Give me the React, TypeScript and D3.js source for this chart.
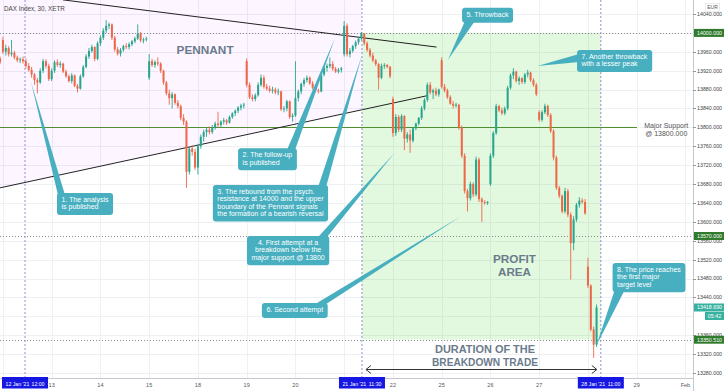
import React from "react";
import * as d3 from "d3";

// 30 min candles, DAX Index XETR: [open, high, low, close]
type Bar = [number, number, number, number];

const jan11: Bar[] = [[13946, 13950, 13934, 13938]];
const jan12: Bar[] = [
  [13985, 13992, 13955, 13960], [13960, 13975, 13952, 13968], [13968, 13972, 13950, 13955],
  [13955, 13985, 13950, 13958], [13958, 13962, 13944, 13948], [13948, 13952, 13938, 13942],
  [13942, 13948, 13936, 13944], [13944, 13950, 13935, 13940], [13940, 13946, 13925, 13930],
  [13930, 13936, 13918, 13922], [13922, 13928, 13905, 13912], [13912, 13915, 13890, 13900],
  [13900, 13905, 13872, 13895], [13895, 13925, 13892, 13920], [13920, 13945, 13915, 13940],
  [13940, 13944, 13925, 13930], [13930, 13935, 13898, 13902],
];
const jan13: Bar[] = [
  [13902, 13925, 13898, 13920], [13920, 13942, 13915, 13938], [13938, 13944, 13928, 13932],
  [13932, 13940, 13926, 13935], [13935, 13937, 13915, 13918], [13918, 13922, 13905, 13908],
  [13908, 13912, 13895, 13898], [13898, 13915, 13893, 13910], [13910, 13912, 13885, 13888],
  [13888, 13892, 13874, 13882], [13882, 13912, 13880, 13908], [13908, 13932, 13905, 13928],
  [13928, 13955, 13925, 13950], [13950, 13968, 13945, 13962], [13962, 13975, 13958, 13970],
  [13970, 13972, 13940, 13945], [13945, 13982, 13942, 13978],
];
const jan14: Bar[] = [
  [13978, 13995, 13972, 13990], [13990, 14010, 13985, 14005], [14005, 14027, 14000, 14015],
  [14015, 14022, 14008, 14018], [14018, 14020, 13985, 13990], [13990, 13994, 13960, 13965],
  [13965, 13970, 13952, 13956], [13956, 13968, 13950, 13964], [13964, 13975, 13960, 13972],
  [13972, 13978, 13966, 13970], [13970, 13980, 13965, 13976], [13976, 13985, 13972, 13982],
  [13982, 13992, 13978, 13988], [13988, 14018, 13985, 13998], [13998, 14002, 13980, 13984],
  [13984, 13990, 13978, 13986], [13986, 13992, 13982, 13988],
];
const jan15: Bar[] = [
  [13905, 13955, 13900, 13940], [13940, 13945, 13928, 13932], [13932, 13942, 13926, 13938],
  [13938, 13948, 13930, 13935], [13935, 13938, 13915, 13920], [13920, 13922, 13890, 13895],
  [13895, 13898, 13868, 13872], [13872, 13880, 13848, 13862], [13862, 13875, 13840, 13870],
  [13870, 13872, 13848, 13852], [13852, 13858, 13840, 13845], [13845, 13848, 13815, 13820],
  [13820, 13828, 13805, 13812], [13812, 13815, 13672, 13706], [13706, 13760, 13700, 13755],
  [13755, 13762, 13740, 13748], [13748, 13755, 13710, 13715],
];
const jan18: Bar[] = [
  [13715, 13765, 13700, 13760], [13760, 13785, 13755, 13780], [13780, 13795, 13770, 13790],
  [13790, 13800, 13780, 13795], [13795, 13802, 13785, 13790], [13790, 13805, 13786, 13800],
  [13800, 13812, 13795, 13808], [13808, 13833, 13800, 13805], [13805, 13815, 13800, 13812],
  [13812, 13820, 13806, 13815], [13815, 13818, 13805, 13810], [13810, 13825, 13808, 13822],
  [13822, 13832, 13818, 13830], [13830, 13838, 13824, 13835], [13835, 13845, 13830, 13842],
  [13842, 13850, 13836, 13846], [13846, 13852, 13840, 13848],
];
const jan19: Bar[] = [
  [13940, 13946, 13885, 13890], [13890, 13895, 13860, 13864], [13864, 13870, 13855, 13860],
  [13860, 13872, 13855, 13868], [13868, 13895, 13865, 13890], [13890, 13912, 13886, 13905],
  [13905, 13910, 13882, 13886], [13886, 13892, 13878, 13882], [13882, 13888, 13874, 13878],
  [13878, 13886, 13872, 13880], [13880, 13884, 13870, 13874], [13874, 13882, 13868, 13876],
  [13876, 13878, 13835, 13838], [13838, 13845, 13832, 13840], [13840, 13858, 13834, 13855],
  [13855, 13857, 13818, 13822], [13822, 13830, 13812, 13825],
];
const jan20: Bar[] = [
  [13825, 13940, 13822, 13862], [13862, 13880, 13855, 13876], [13876, 13895, 13870, 13892],
  [13892, 13905, 13886, 13900], [13900, 13910, 13895, 13905], [13905, 13908, 13890, 13893],
  [13893, 13898, 13880, 13884], [13884, 13888, 13874, 13878], [13878, 13882, 13872, 13876],
  [13876, 13915, 13874, 13912], [13912, 13930, 13908, 13926], [13926, 13935, 13918, 13930],
  [13930, 13948, 13925, 13934], [13934, 13940, 13920, 13924], [13924, 13928, 13915, 13918],
  [13918, 13926, 13914, 13922], [13922, 13928, 13916, 13925],
];
const jan21: Bar[] = [
  [13955, 14025, 13950, 14015], [14015, 14020, 13950, 13955], [13955, 13968, 13948, 13962],
  [13962, 13975, 13958, 13972], [13972, 13984, 13966, 13980], [13980, 13992, 13975, 13988],
  [13988, 14002, 13984, 13998], [13998, 14000, 13974, 13978], [13978, 13982, 13960, 13964],
  [13964, 13968, 13948, 13952], [13952, 13958, 13938, 13942], [13942, 13945, 13930, 13934],
  [13934, 13936, 13880, 13905], [13905, 13935, 13902, 13930], [13930, 13936, 13924, 13932],
  [13932, 13934, 13925, 13928], [13928, 13930, 13904, 13908],
];
const jan22: Bar[] = [
  [13860, 13865, 13780, 13788], [13788, 13828, 13782, 13822], [13822, 13826, 13790, 13795],
  [13795, 13828, 13790, 13824], [13824, 13826, 13752, 13776], [13776, 13790, 13768, 13785],
  [13785, 13795, 13746, 13772], [13772, 13800, 13768, 13798], [13798, 13810, 13794, 13808],
  [13808, 13822, 13804, 13820], [13820, 13845, 13816, 13840], [13840, 13862, 13836, 13858],
  [13858, 13895, 13854, 13890], [13890, 13896, 13870, 13874], [13874, 13882, 13860, 13878],
  [13878, 13884, 13866, 13870], [13870, 13882, 13865, 13880],
];
const jan25: Bar[] = [
  [13942, 13948, 13882, 13886], [13886, 13892, 13874, 13878], [13878, 13882, 13860, 13864],
  [13864, 13868, 13848, 13850], [13850, 13856, 13840, 13846], [13846, 13852, 13842, 13848],
  [13848, 13850, 13795, 13800], [13800, 13804, 13735, 13740], [13740, 13745, 13660, 13665],
  [13665, 13670, 13622, 13650], [13650, 13685, 13645, 13680], [13680, 13684, 13652, 13658],
  [13658, 13738, 13654, 13732], [13732, 13736, 13642, 13648], [13648, 13652, 13600, 13642],
  [13642, 13646, 13636, 13640], [13640, 13644, 13636, 13642],
];
const jan26: Bar[] = [
  [13680, 13745, 13676, 13740], [13740, 13792, 13735, 13788], [13788, 13850, 13784, 13845],
  [13845, 13848, 13832, 13836], [13836, 13842, 13826, 13830], [13830, 13844, 13826, 13840],
  [13840, 13888, 13836, 13884], [13884, 13914, 13880, 13910], [13910, 13925, 13902, 13918],
  [13918, 13920, 13895, 13898], [13898, 13908, 13890, 13904], [13904, 13906, 13892, 13896],
  [13896, 13915, 13892, 13912], [13912, 13922, 13906, 13916], [13916, 13918, 13896, 13900],
  [13900, 13904, 13886, 13890], [13890, 13894, 13866, 13870],
];
const jan27: Bar[] = [
  [13832, 13836, 13812, 13816], [13816, 13836, 13812, 13832], [13832, 13850, 13828, 13845],
  [13845, 13848, 13822, 13826], [13826, 13830, 13788, 13792], [13792, 13796, 13730, 13736],
  [13736, 13740, 13668, 13672], [13672, 13676, 13650, 13655], [13655, 13658, 13618, 13622],
  [13622, 13672, 13618, 13665], [13665, 13670, 13610, 13615], [13615, 13620, 13478, 13555],
  [13555, 13612, 13540, 13605], [13605, 13640, 13600, 13636], [13636, 13652, 13630, 13645],
  [13645, 13650, 13638, 13642], [13642, 13648, 13615, 13618],
];
const jan28: Bar[] = [
  [13505, 13524, 13460, 13465], [13465, 13468, 13368, 13372],
  [13372, 13378, 13312, 13340], [13340, 13425, 13335, 13418.69],
];

const sessions: Bar[][] = [jan12, jan13, jan14, jan15, jan18, jan19, jan20, jan21, jan22, jan25, jan26, jan27, jan28];
const dayLabels = ["12", "13", "14", "15", "18", "19", "20", "21", "22", "25", "26", "27", "28", "29", "Feb"];
const barsPerDay = 17;

const priceTicks = [13280, 13320, 13360, 13440, 13480, 13520, 13560, 13600, 13640,
  13680, 13720, 13760, 13800, 13840, 13880, 13920, 13960, 14040];
const dottedLevels = [14000, 13570, 13350.51];
const priceTags = [
  { value: 14000, text: "14000.000", kind: "level" },
  { value: 13570, text: "13570.000", kind: "level" },
  { value: 13418.69, text: "13418.690", kind: "last" },
  { value: 13350.51, text: "13350.510", kind: "level" },
];
const countdown = "05:42";

// vertical date markers (bar position)
const markerBars = [7.7, 125.2, 208.5];
const markerDates = ["12 Jan '21", "21 Jan '21", "28 Jan '21"];
const markerTimes = ["12:00", "11:30", "11:00"];

// drawings in [bar, price]
const pennantUpper: [number, number][] = [[20.9, 14070], [151.2, 13970]];
const pennantLower: [number, number][] = [[-1.0, 13672], [147.9, 13867]];
const supportLevel = 13800;
const supportEnd = 221.1;
const profitRange = [13350.51, 14000];

const callouts = [
  { lines: ["1. The analysis", "is published"], at: [18.85, 13661], tip: [9.8, 13896] },
  { lines: ["2. The follow-up", "is published"], at: [82, 13756], tip: [115.8, 13989] },
  { lines: ["3. The rebound from the psych.", "resistance at 14000 and the upper", "boundary of the Pennant signals", "the formation of a bearish reversal"], at: [73.2, 13678], tip: [125.2, 13953] },
  { lines: ["4. First attempt at a", "breakdown below the", "major support @ 13800"], at: [85.1, 13570], tip: [136.5, 13746] },
  { lines: ["5. Throwback"], at: [160.1, 14053], tip: [155.2, 13943] },
  { lines: ["6. Second attempt"], at: [90.3, 13428], tip: [159.7, 13612] },
  { lines: ["7. Another throwback", "with a lesser peak"], at: [200.2, 13964], tip: [186.4, 13930] },
  { lines: ["8. The price reaches", "the first major", "target level"], at: [212.6, 13513], tip: [207, 13339] },
];
const pointerBase = [
  { edge: "top", a: 1, b: 8 },
  { edge: "top", a: -10, b: -2 },
  { edge: "top", a: -10, b: -2 },
  { edge: "top", a: -12, b: -3 },
  { edge: "bottom", a: 3, b: 13 },
  { edge: "top", a: -14, b: -3 },
  { edge: "left", a: 4, b: 12 },
  { edge: "bottom", a: 2, b: 12 },
];

const labels = [
  { lines: ["PENNANT"], at: [70.5, 13955], len: [57] },
  { lines: ["PROFIT", "AREA"], at: [178.4, 13513], len: [43, 33] },
  { lines: ["DURATION OF THE", "BREAKDOWN TRADE"], at: [168.1, 13323], len: [100, 106] },
];

const W = 728;
const H = 391;
const PLOT_R = 693;
const AXIS_Y = 378;
const X0 = 1.5;
const STEP = 48.75 / 17;
const UP = "#26a68c";
const DOWN = "#ee6748";
const TEAL = "#47afbf";
const GRAY_TXT = "#6b7b8c";
const CALL_FONT = "7px 'Liberation Sans', Arial, sans-serif";

let ctx: CanvasRenderingContext2D | null = null;
function measure(s: string, font: string) {
  if (!ctx) ctx = document.createElement("canvas").getContext("2d");
  if (!ctx) return s.length * 3.4;
  ctx.font = font;
  return ctx.measureText(s).width;
}

export default function App() {
  const x = d3.scaleLinear().domain([-0.5, 237.5]).range([X0, X0 + 238 * STEP]);
  const y = d3.scaleLinear().domain([13280, 14040]).range([373, 14]);

  const bars = [
    ...jan11.map((b, i) => ({ i: i - jan11.length, b })),
    ...sessions.flatMap((s, d) => s.map((b, j) => ({ i: d * barsPerDay + j, b }))),
  ];

  const lineAt = (ln: [number, number][], i: number) =>
    d3.scaleLinear().domain([ln[0][0], ln[1][0]]).range([ln[0][1], ln[1][1]])(i);

  const leftBar = x.invert(0);
  const m2 = markerBars[1];
  const pennantFill = [
    [x(leftBar), 0],
    [x(m2), 0],
    [x(m2), y(lineAt(pennantLower, m2))],
    [x(leftBar), y(lineAt(pennantLower, leftBar))],
  ];

  // day labels hidden under the date boxes are not drawn
  const visibleDays = dayLabels
    .map((d, k) => ({ d, px: x(k * barsPerDay) }))
    .filter((o) => markerBars.every((m) => Math.abs(x(m) - o.px) > 26));

  const bw = 2;
  const lineH = 7.2;
  const padY = 3.8;
  const padX = 4.5;

  return (
    <div style={{ position: "absolute", left: 0, top: 0 }}>
      <svg width={W} height={H} viewBox={`0 0 ${W} ${H}`} style={{ display: "block", fontFamily: "'Liberation Sans', Arial, sans-serif" }}>
        <defs>
          <clipPath id="timeClip">
            <rect x={0} y={AXIS_Y} width={PLOT_R} height={H - AXIS_Y} />
          </clipPath>
        </defs>
        <rect width={W} height={H} fill="#ffffff" />

        {/* grid */}
        <g stroke="#eef0f4" strokeWidth={1}>
          {dayLabels.map((d, k) => (
            <line key={d} x1={Math.round(x(k * barsPerDay)) + 0.5} x2={Math.round(x(k * barsPerDay)) + 0.5} y1={0} y2={AXIS_Y} />
          ))}
          {priceTicks.concat([13400, 14000]).map((t) => (
            <line key={t} x1={0} x2={PLOT_R} y1={Math.round(y(t)) + 0.5} y2={Math.round(y(t)) + 0.5} />
          ))}
        </g>

        {/* zones */}
        <polygon points={pennantFill.map((p) => p.join(",")).join(" ")} fill="#e040fb" fillOpacity={0.05} />
        <rect
          x={x(m2)}
          y={y(profitRange[1])}
          width={x(markerBars[2]) - x(m2)}
          height={y(profitRange[0]) - y(profitRange[1])}
          fill="#4cd137"
          fillOpacity={0.16}
        />

        {/* levels */}
        {dottedLevels.map((v) => (
          <line key={v} x1={0} x2={PLOT_R} y1={Math.round(y(v)) + 0.5} y2={Math.round(y(v)) + 0.5} stroke="#8a8a8a" strokeDasharray="1,2" />
        ))}
        <line x1={0} x2={x(supportEnd)} y1={Math.round(y(supportLevel)) + 0.5} y2={Math.round(y(supportLevel)) + 0.5} stroke="#4f8f2f" strokeWidth={1} />

        {/* pennant */}
        {[pennantUpper, pennantLower].map((ln, k) => (
          <line key={k} x1={x(ln[0][0])} y1={y(ln[0][1])} x2={x(ln[1][0])} y2={y(ln[1][1])} stroke="#222" strokeWidth={1} />
        ))}

        {/* date markers */}
        {markerBars.map((m) => (
          <line key={m} x1={x(m)} x2={x(m)} y1={0} y2={AXIS_Y} stroke="#8d8fd8" strokeDasharray="2,2" strokeWidth={1} />
        ))}

        {/* candles */}
        {bars.map(({ i, b }) => {
          const [o, h, l, c] = b;
          const cx = x(i);
          const col = c >= o ? UP : DOWN;
          const top = y(Math.max(o, c));
          const bot = y(Math.min(o, c));
          return (
            <g key={i}>
              <line x1={cx} x2={cx} y1={y(h)} y2={y(l)} stroke={col} strokeWidth={0.9} />
              <rect x={cx - bw / 2} y={top} width={bw} height={Math.max(1, bot - top)} fill={col} />
            </g>
          );
        })}

        {/* text labels */}
        {labels.flatMap((lb, k) =>
          lb.lines.map((s, j) => (
            <text
              key={`${k}-${j}`}
              x={x(lb.at[0])}
              y={y(lb.at[1]) + j * 12.9}
              fill={GRAY_TXT}
              fontFamily="'Liberation Sans', Arial, sans-serif"
              fontWeight={700}
              fontSize={11.2}
              textAnchor="middle"
              textLength={lb.len[j]}
              lengthAdjust="spacingAndGlyphs"
            >
              {s}
            </text>
          ))
        )}

        {/* duration arrow */}
        {(() => {
          const ay = Math.round(y(13288.7)) + 0.5;
          const xa = x(m2) + 4;
          const xb = x(markerBars[2]) - 4;
          return (
            <g stroke="#333" strokeWidth={1} fill="none">
              <line x1={xa} x2={xb} y1={ay} y2={ay} />
              <path d={`M${xa + 5},${ay - 4} L${xa},${ay} L${xa + 5},${ay + 4}`} />
              <path d={`M${xb - 5},${ay - 4} L${xb},${ay} L${xb - 5},${ay + 4}`} />
            </g>
          );
        })()}

        {/* callouts */}
        {callouts.map((cl, k) => {
          const bx = x(cl.at[0]);
          const by = y(cl.at[1]);
          const tw = d3.max(cl.lines, (s) => measure(s, CALL_FONT)) ?? 40;
          const w = tw + padX * 2;
          const h = cl.lines.length * lineH + padY * 2;
          const pb = pointerBase[k];
          const px = (v: number) => (v < 0 ? bx + w + v : bx + v);
          let a: number[];
          let b: number[];
          if (pb.edge === "top") {
            a = [px(pb.a), by + 2];
            b = [px(pb.b), by + 2];
          } else if (pb.edge === "bottom") {
            a = [px(pb.a), by + h - 2];
            b = [px(pb.b), by + h - 2];
          } else {
            a = [bx + 2, by + pb.a];
            b = [bx + 2, by + pb.b];
          }
          const t = [x(cl.tip[0]), y(cl.tip[1])];
          const centered = k === 3;
          return (
            <g key={k}>
              <polygon points={`${a.join(",")} ${b.join(",")} ${t.join(",")}`} fill={TEAL} />
              <rect x={bx} y={by} width={w} height={h} rx={3} fill={TEAL} />
              <text fill="#fff" fontSize={7} textAnchor={centered ? "middle" : "start"}>
                {cl.lines.map((s, j) => (
                  <tspan key={j} x={centered ? bx + w / 2 : bx + padX} y={by + padY + 5.4 + j * lineH}>
                    {s}
                  </tspan>
                ))}
              </text>
            </g>
          );
        })}

        {/* major support label */}
        <text fill="#555" fontSize={7} textAnchor="middle">
          <tspan x={x(231.3)} y={y(13799)}>Major Support</tspan>
          <tspan x={x(231.3)} y={y(13782)}>@ 13800.000</tspan>
        </text>

        {/* title */}
        <text x={4} y={10.5} fontSize={6.3} fill="#444">DAX Index, 30, XETR</text>

        {/* time axis */}
        <rect x={0} y={AXIS_Y} width={W} height={H - AXIS_Y} fill="#fff" />
        <line x1={0} x2={PLOT_R} y1={AXIS_Y + 0.5} y2={AXIS_Y + 0.5} stroke="#c5c8ce" />
        <g clipPath="url(#timeClip)">
          {visibleDays.map((o) => (
            <text key={o.d} x={o.px} y={386.5} fontSize={5.5} fill="#555" textAnchor="middle">
              {o.d}
            </text>
          ))}
        </g>
        {markerBars.map((m, k) => (
          <g key={m}>
            <rect x={x(m) - 23} y={AXIS_Y - 1} width={46} height={11.5} fill="#1717e3" />
            <text x={x(m) - 19.5} y={385.8} fontSize={5.2} fill="#fff">{markerDates[k]}</text>
            <text x={x(m) + 19.5} y={385.8} fontSize={5.2} fill="#fff" textAnchor="end">{markerTimes[k]}</text>
          </g>
        ))}

        {/* price axis */}
        <rect x={PLOT_R} y={0} width={W - PLOT_R} height={H} fill="#fff" />
        <line x1={PLOT_R + 0.5} x2={PLOT_R + 0.5} y1={0} y2={H} stroke="#c5c8ce" />
        {priceTicks.map((t) => (
          <g key={t}>
            <line x1={PLOT_R} x2={PLOT_R + 3} y1={Math.round(y(t)) + 0.5} y2={Math.round(y(t)) + 0.5} stroke="#999" />
            <text x={697} y={y(t) + 1.9} fontSize={5.3} fill="#444">{d3.format(".3f")(t)}</text>
          </g>
        ))}
        {priceTags.map((pt) => {
          const yy = y(pt.value);
          const fill = pt.kind === "last" ? "#38b2a0" : "#2f7a2c";
          return (
            <g key={pt.text}>
              <rect x={PLOT_R + 1} y={yy - 4} width={30} height={8} fill={fill} />
              <text x={697} y={yy + 1.9} fontSize={5.3} fill="#fff">{pt.text}</text>
              {pt.kind === "last" && (
                <g>
                  <rect x={PLOT_R + 12} y={yy + 4.5} width={19} height={8} fill={fill} />
                  <text x={PLOT_R + 21.5} y={yy + 10.4} fontSize={5.3} fill="#fff" textAnchor="middle">{countdown}</text>
                </g>
              )}
            </g>
          );
        })}
        <rect x={705.5} y={3.5} width={14} height={8} fill="#fff" stroke="#ddd" strokeWidth={0.6} />
        <text x={712.5} y={9.3} fontSize={5} fill="#555" textAnchor="middle">EUR</text>
      </svg>
    </div>
  );
}
